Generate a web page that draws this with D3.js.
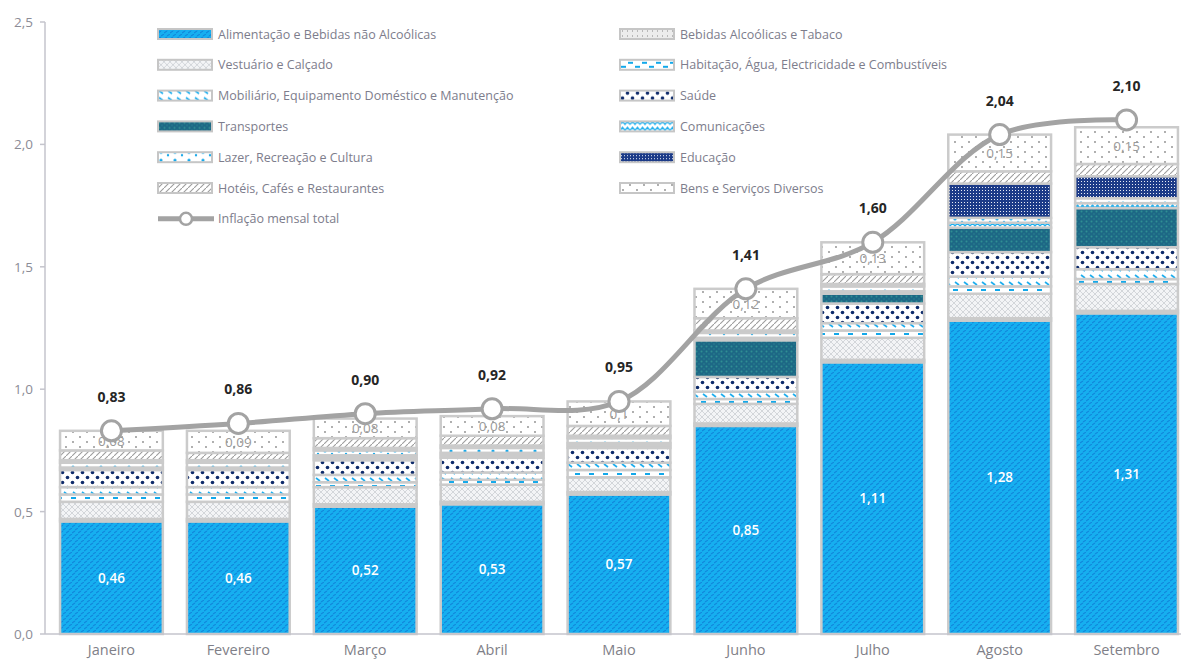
<!DOCTYPE html>
<html>
<head>
<meta charset="utf-8">
<script src="https://cdn.jsdelivr.net/npm/d3@7"></script>
<style>
  body { margin: 0; background: #fff; }
  svg { display: block; font-family: "Open Sans", "Noto Sans", sans-serif; }
</style>
</head>
<body>
<svg id="chart" width="1181" height="662"></svg>
<script>
// months on the x axis
var months = ['Janeiro', 'Fevereiro', 'Março', 'Abril', 'Maio', 'Junho', 'Julho', 'Agosto', 'Setembro'];

// series, bottom to top of each stack
var series = [
    'Alimentação e Bebidas não Alcoólicas',
    'Bebidas Alcoólicas e Tabaco',
    'Vestuário e Calçado',
    'Habitação, Água, Electricidade e Combustíveis',
    'Mobiliário, Equipamento Doméstico e Manutenção',
    'Saúde',
    'Transportes',
    'Comunicações',
    'Lazer, Recreação e Cultura',
    'Educação',
    'Hotéis, Cafés e Restaurantes',
    'Bens e Serviços Diversos'
];

var alimentacao  = [0.46, 0.46, 0.52, 0.53, 0.57, 0.85, 1.11, 1.28, 1.31];
var bebidas      = [0.01, 0.01, 0.01, 0.01, 0.01, 0.01, 0.01, 0.01, 0.01];
var vestuario    = [0.07, 0.07, 0.07, 0.07, 0.06, 0.08, 0.09, 0.10, 0.11];
var habitacao    = [0.03, 0.03, 0.02, 0.02, 0.03, 0.02, 0.03, 0.03, 0.02];
var mobiliario   = [0.03, 0.03, 0.03, 0.03, 0.03, 0.03, 0.03, 0.04, 0.04];
var saude        = [0.07, 0.07, 0.06, 0.06, 0.06, 0.06, 0.08, 0.10, 0.09];
var transportes  = [0.00, 0.00, 0.01, 0.01, 0.01, 0.15, 0.04, 0.10, 0.16];
var comunicacoes = [0.01, 0.01, 0.01, 0.01, 0.01, 0.01, 0.01, 0.02, 0.02];
var lazer        = [0.02, 0.02, 0.02, 0.02, 0.02, 0.02, 0.02, 0.02, 0.02];
var educacao     = [0.01, 0.01, 0.01, 0.01, 0.01, 0.01, 0.01, 0.14, 0.09];
var hoteis       = [0.04, 0.03, 0.04, 0.04, 0.04, 0.05, 0.04, 0.05, 0.05];
var bens         = [0.08, 0.09, 0.08, 0.08, 0.10, 0.12, 0.13, 0.15, 0.15];

// total monthly inflation (line)
var inflacao = [0.83, 0.86, 0.90, 0.92, 0.95, 1.41, 1.60, 2.04, 2.10];

var yTicks = [0, 0.5, 1.0, 1.5, 2.0, 2.5];

var values = [alimentacao, bebidas, vestuario, habitacao, mobiliario, saude,
              transportes, comunicacoes, lazer, educacao, hoteis, bens];

// build rows for d3.stack
var rows = months.map(function(m, i) {
    var r = {month: m};
    series.forEach(function(s, k) { r[s] = values[k][i]; });
    return r;
});

var locale = d3.formatLocale({decimal: ',', thousands: '.', grouping: [3], currency: ['', '€']});
var fmt1 = locale.format('.1f');
var fmt2 = locale.format('.2f');
var fmtShort = function(v) { return locale.format('.2~f')(v); };

var svg = d3.select('#chart');
var defs = svg.append('defs');

var x = d3.scaleBand().domain(months).range([48, 1190]).paddingInner(0.19).paddingOuter(0.095);
var y = d3.scaleLinear().domain([0, 2.5]).range([634, 22]);

// fill patterns, one per series
function pat(id, w, h, bg, draw) {
    var p = defs.append('pattern').attr('id', id)
        .attr('patternUnits', 'userSpaceOnUse').attr('width', w).attr('height', h);
    p.append('rect').attr('width', w).attr('height', h).attr('fill', bg);
    draw(p);
}
pat('p0', 6, 6, '#16aff0', function(p) {
    p.append('path').attr('d', 'M0,5 L3,3 M3,2 L6,0').attr('stroke', '#1088dc').attr('stroke-width', 1.1);
});
pat('p1', 5, 5, '#ececec', function(p) {
    p.append('rect').attr('x', 2).attr('y', 1).attr('width', 1).attr('height', 2).attr('fill', '#b8b8b8');
});
pat('p2', 6, 6, '#f3f4f6', function(p) {
    p.append('path').attr('d', 'M0,3 L3,0 L6,3 L3,6 Z').attr('fill', 'none').attr('stroke', '#d3d6da').attr('stroke-width', 1);
});
pat('p3', 14, 8, '#ffffff', function(p) {
    p.append('path').attr('d', 'M1,2 L6,2 M8,6 L13,6').attr('stroke', '#12a8ea').attr('stroke-width', 2);
});
pat('p4', 9, 7, '#ffffff', function(p) {
    p.append('path').attr('d', 'M1,2 L5,5').attr('stroke', '#1cadee').attr('stroke-width', 1.6);
});
pat('p5', 10, 10, '#ffffff', function(p) {
    p.append('circle').attr('cx', 2.5).attr('cy', 2.5).attr('r', 1.8).attr('fill', '#0d2a6a');
    p.append('circle').attr('cx', 7.5).attr('cy', 7.5).attr('r', 1.8).attr('fill', '#0d2a6a');
});
pat('p6', 5, 5, '#1d6885', function(p) {
    p.append('circle').attr('cx', 1.5).attr('cy', 1.5).attr('r', 1).attr('fill', '#2f8f93');
    p.append('circle').attr('cx', 4).attr('cy', 4).attr('r', 0.8).attr('fill', '#2a8290');
});
pat('p7', 10, 6, '#ffffff', function(p) {
    p.append('path').attr('d', 'M0,4 L2.5,1 L5,4 L7.5,1 L10,4').attr('fill', 'none').attr('stroke', '#22b0ee').attr('stroke-width', 1.4);
});
pat('p8', 14, 8, '#ffffff', function(p) {
    p.append('circle').attr('cx', 3).attr('cy', 3).attr('r', 1.6).attr('fill', '#19a9ea');
    p.append('circle').attr('cx', 10).attr('cy', 6).attr('r', 1.2).attr('fill', '#19a9ea');
});
pat('p9', 3, 3, '#1c3b88', function(p) {
    p.append('rect').attr('x', 1).attr('y', 1).attr('width', 1).attr('height', 1).attr('fill', '#e8ecf5');
});
pat('p10', 6, 6, '#ffffff', function(p) {
    p.append('path').attr('d', 'M0,6 L6,0').attr('stroke', '#9c9c9c').attr('stroke-width', 1.1);
});
pat('p11', 14, 10, '#ffffff', function(p) {
    p.append('circle').attr('cx', 3).attr('cy', 2).attr('r', 0.9).attr('fill', '#8a8a8a');
    p.append('circle').attr('cx', 10).attr('cy', 7).attr('r', 0.9).attr('fill', '#8a8a8a');
});

var stack = d3.stack().keys(series);
var layers = stack(rows);

// bars
var g = svg.append('g');
g.selectAll('.layer')
    .data(layers)
    .enter()
    .append('g')
    .classed('layer', true)
    .attr('fill', function(d, i) { return 'url(#p' + i + ')'; })
    .selectAll('rect')
    .data(function(d) { return d; })
    .enter()
    .append('rect')
    .attr('x', function(d) { return x(d.data.month); })
    .attr('y', function(d) { return y(d[1]); })
    .attr('width', x.bandwidth())
    .attr('height', function(d) { return Math.max(0, y(d[0]) - y(d[1])); })
    .attr('stroke', '#cbcbcb')
    .attr('stroke-width', 2.5);

// labels of food segment (white) and top segment (gray)
g.selectAll('.lab0')
    .data(layers[0])
    .enter()
    .append('text')
    .attr('x', function(d) { return x(d.data.month) + x.bandwidth() / 2; })
    .attr('y', function(d) { return (y(d[0]) + y(d[1])) / 2 + 5; })
    .attr('text-anchor', 'middle')
    .attr('fill', '#ffffff')
    .attr('font-size', 13.5)
    .attr('font-weight', 600)
    .text(function(d) { return fmt2(d[1] - d[0]); });

g.selectAll('.lab11')
    .data(layers[11])
    .enter()
    .append('text')
    .attr('x', function(d) { return x(d.data.month) + x.bandwidth() / 2; })
    .attr('y', function(d) { return (y(d[0]) + y(d[1])) / 2 + 5; })
    .attr('text-anchor', 'middle')
    .attr('fill', '#999999')
    .attr('font-size', 13.5)
    .text(function(d) { return fmtShort(d[1] - d[0]); });

// axes
svg.append('line').attr('x1', 45).attr('x2', 45).attr('y1', y(2.5)).attr('y2', y(0))
    .attr('stroke', '#c4c4cc').attr('stroke-width', 1.5);
svg.append('line').attr('x1', 45).attr('x2', 1181).attr('y1', y(0)).attr('y2', y(0))
    .attr('stroke', '#c4c4cc').attr('stroke-width', 1.5);
svg.selectAll('.ytick')
    .data(yTicks)
    .enter()
    .append('line')
    .attr('x1', 40).attr('x2', 45)
    .attr('y1', function(d) { return y(d); })
    .attr('y2', function(d) { return y(d); })
    .attr('stroke', '#c4c4cc').attr('stroke-width', 1.5);
svg.selectAll('.ylab')
    .data(yTicks)
    .enter()
    .append('text')
    .attr('x', 33)
    .attr('y', function(d) { return y(d) + 5; })
    .attr('text-anchor', 'end')
    .attr('fill', '#8c8c96')
    .attr('font-size', 13.5)
    .text(function(d) { return fmt1(d); });
svg.selectAll('.xlab')
    .data(months)
    .enter()
    .append('text')
    .attr('x', function(d) { return x(d) + x.bandwidth() / 2; })
    .attr('y', 655)
    .attr('text-anchor', 'middle')
    .attr('fill', '#7f7f88')
    .attr('font-size', 14.5)
    .text(function(d) { return d; });

// total inflation line
var cx = function(d, i) { return x(months[i]) + x.bandwidth() / 2; };
var line = d3.line().x(cx).y(function(d) { return y(d); }).curve(d3.curveCatmullRom.alpha(0.5));
svg.append('path').datum(inflacao).attr('d', line)
    .attr('fill', 'none').attr('stroke', '#a3a3a3').attr('stroke-width', 5);
svg.selectAll('.dot')
    .data(inflacao)
    .enter()
    .append('circle')
    .attr('cx', cx)
    .attr('cy', function(d) { return y(d); })
    .attr('r', 10)
    .attr('fill', '#ffffff')
    .attr('stroke', '#a3a3a3')
    .attr('stroke-width', 3);
svg.selectAll('.tot')
    .data(inflacao)
    .enter()
    .append('text')
    .attr('x', cx)
    .attr('y', function(d) { return y(d) - 29; })
    .attr('text-anchor', 'middle')
    .attr('fill', '#262626')
    .attr('font-size', 14)
    .attr('font-weight', 700)
    .text(function(d) { return fmt2(d); });

// legend, two columns
var legend = svg.append('g');
var items = series.concat(['Inflação mensal total']);
items.forEach(function(name, i) {
    var col = i % 2, row = Math.floor(i / 2);
    var lx = col == 0 ? 158 : 620;
    var ly = 34 + row * 30.8;
    var it = legend.append('g').attr('transform', 'translate(' + lx + ',' + ly + ')');
    if (i < series.length) {
        it.append('rect').attr('x', 0).attr('y', -5).attr('width', 54).attr('height', 10)
            .attr('fill', 'url(#p' + i + ')').attr('stroke', '#c6c6c6').attr('stroke-width', 2);
    } else {
        it.append('line').attr('x1', 0).attr('x2', 56).attr('y1', 0).attr('y2', 0)
            .attr('stroke', '#a3a3a3').attr('stroke-width', 5);
        it.append('circle').attr('cx', 28).attr('cy', 0).attr('r', 6)
            .attr('fill', '#ffffff').attr('stroke', '#a3a3a3').attr('stroke-width', 2.5);
    }
    it.append('text').attr('x', 60).attr('y', 4.5)
        .attr('fill', '#7d7d8c').attr('font-size', 12.5)
        .text(name);
});
</script>
</body>
</html>
